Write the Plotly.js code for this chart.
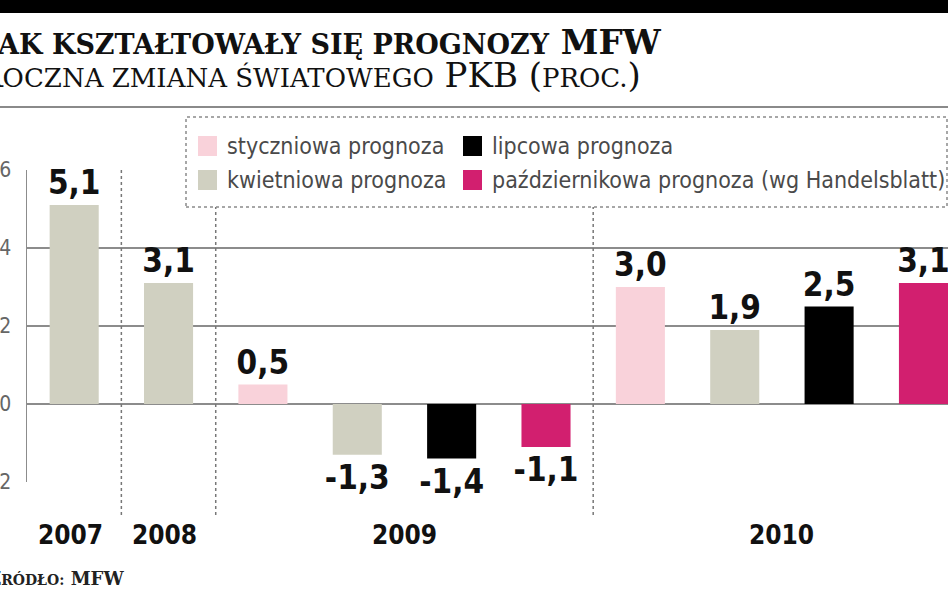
<!DOCTYPE html>
<html><head><meta charset="utf-8">
<script src="https://cdn.plot.ly/plotly-3.0.1.min.js"></script>
<style>html,body{margin:0;padding:0;background:#fff}#chart{width:948px;height:593px}</style>
</head><body><div id="chart"></div>
<script>
// ---- data ----
const years = ['2007', '2008', '2009', '2010'];
const seriesNames = ['styczniowa prognoza', 'kwietniowa prognoza', 'lipcowa prognoza', 'październikowa prognoza (wg Handelsblatt)'];
const styczniowa = [null, null, 0.5, 3.0];
const kwietniowa = [5.1, 3.1, -1.3, 1.9];
const lipcowa = [null, null, -1.4, 2.5];
const pazdziernikowa = [null, null, -1.1, 3.1];
const yTickVals = [-2, 0, 2, 4, 6];
const yTickText = ['-2', '0', '2', '4', '6'];

// ---- styles ----
const seriesValues = [styczniowa, kwietniowa, lipcowa, pazdziernikowa];
const seriesColors = ['#f9d2da', '#d0d0c1', '#000000', '#d21f6f'];
const NARROW = '"DejaVu Sans Condensed", "Liberation Sans Narrow", sans-serif';
const SERIF = '"DejaVu Serif", serif';
const GRID = '#8c8c8c';

const W = 948, H = 593, mL = 27, mR = 0, mT = 170, mB = 111;
const pw = W - mL - mR, ph = H - mT - mB;
const px = X => (X - mL) / pw;
const py = Y => (H - mB - Y) / ph;

// slot assignment: one slot per existing bar, grouped by year
const slotX = seriesValues.map(() => []);
const slotY = seriesValues.map(() => []);
const groups = [];
let slot = 0;
years.forEach((yr, i) => {
  const start = slot;
  seriesValues.forEach((vals, s) => {
    if (vals[i] !== null) { slotX[s].push(slot); slotY[s].push(vals[i]); slot++; }
  });
  groups.push({ year: yr, start: start, end: slot - 1 });
});
const fmt = v => v.toFixed(1).replace('.', ',');

const traces = seriesValues.map((vals, s) => ({
  type: 'bar',
  name: seriesNames[s],
  x: slotX[s],
  y: slotY[s],
  width: 0.52,
  marker: { color: seriesColors[s], line: { width: 0 } },
  text: slotY[s].map(fmt),
  textposition: 'outside',
  constraintext: 'none',
  cliponaxis: false,
  textfont: { family: NARROW, size: 33, color: '#111', weight: 'bold' },
  hoverinfo: 'skip',
  showlegend: false
}));

const shapes = [];
const annotations = [];

// header bars
shapes.push({ type: 'rect', xref: 'paper', yref: 'paper', x0: px(-5), x1: px(W + 5), y0: py(13), y1: py(-5), fillcolor: '#000', line: { width: 0 }, layer: 'above' });
shapes.push({ type: 'line', xref: 'paper', yref: 'paper', x0: px(0), x1: px(W), y0: py(107), y1: py(107), line: { color: '#8a8a8a', width: 2 } });

// group separators (dotted)
for (let g = 0; g < groups.length - 1; g++) {
  const xs = (groups[g].end + groups[g + 1].start) / 2;
  shapes.push({ type: 'line', xref: 'x', yref: 'paper', x0: xs, x1: xs, y0: 1, y1: py(518), line: { color: '#777', width: 1.5, dash: 'dot' }, layer: 'above' });
}
// year labels
groups.forEach(g => {
  annotations.push({ xref: 'x', yref: 'paper', x: (g.start + g.end) / 2 - (g.start === g.end ? 0.04 : 0), y: py(535), text: g.year, showarrow: false, xanchor: 'center', yanchor: 'middle', font: { family: NARROW, size: 26, color: '#111', weight: 'bold' } });
});

// legend box
shapes.push({ type: 'rect', xref: 'paper', yref: 'paper', x0: px(186), x1: px(947), y0: py(207), y1: py(117), fillcolor: '#fff', line: { color: '#8a8a8a', width: 1.5, dash: 'dot' }, layer: 'above' });
const legendPos = [[198, 146], [198, 180], [463, 146], [463, 180]];
legendPos.forEach((p, s) => {
  shapes.push({ type: 'rect', xref: 'paper', yref: 'paper', x0: px(p[0]), x1: px(p[0] + 19), y0: py(p[1] + 10), y1: py(p[1] - 10), fillcolor: seriesColors[s], line: { width: 0 }, layer: 'above' });
  annotations.push({ xref: 'paper', yref: 'paper', x: px(p[0] + 27), y: py(p[1]), text: seriesNames[s], showarrow: false, xanchor: 'left', yanchor: 'middle', font: { family: NARROW, size: 23, color: '#4a4a4a' } });
});

// titles
annotations.push({ xref: 'paper', yref: 'paper', x: px(-23), y: py(42), xanchor: 'left', yanchor: 'middle', showarrow: false,
  text: '<b>J<span style="font-size:27px">AK KSZTAŁTOWAŁY SIĘ PROGNOZY</span> MFW</b>', font: { family: SERIF, size: 34, color: '#111' } });
annotations.push({ xref: 'paper', yref: 'paper', x: px(-25), y: py(75), xanchor: 'left', yanchor: 'middle', showarrow: false,
  text: 'R<span style="font-size:26px">OCZNA ZMIANA ŚWIATOWEGO</span> PKB (<span style="font-size:26px">PROC.</span>)', font: { family: SERIF, size: 34, color: '#111' } });
annotations.push({ xref: 'paper', yref: 'paper', x: px(-14), y: py(578), xanchor: 'left', yanchor: 'middle', showarrow: false,
  text: '<b>Ź<span style="font-size:14px">RÓDŁO:</span> MFW</b>', font: { family: SERIF, size: 18, color: '#222' } });

const layout = {
  width: W, height: H,
  margin: { l: mL, r: mR, t: mT, b: mB, pad: 0 },
  paper_bgcolor: '#fff', plot_bgcolor: '#fff',
  separators: ', ',
  barmode: 'overlay',
  showlegend: false,
  xaxis: { range: [-0.5, 9.26], showgrid: false, zeroline: false, showticklabels: false, ticks: '', fixedrange: true },
  yaxis: { range: [-2, 6], tickvals: yTickVals, ticktext: yTickText, showgrid: true, gridcolor: GRID, gridwidth: 1.5,
    zeroline: true, zerolinecolor: GRID, zerolinewidth: 1.5, showline: true, linecolor: GRID, linewidth: 1.5,
    ticks: '', ticklabelstandoff: 10, tickfont: { family: NARROW, size: 21, color: '#666' }, fixedrange: true },
  shapes: shapes,
  annotations: annotations
};

Plotly.newPlot('chart', traces, layout, { displayModeBar: false, staticPlot: true });
</script>
</body></html>
